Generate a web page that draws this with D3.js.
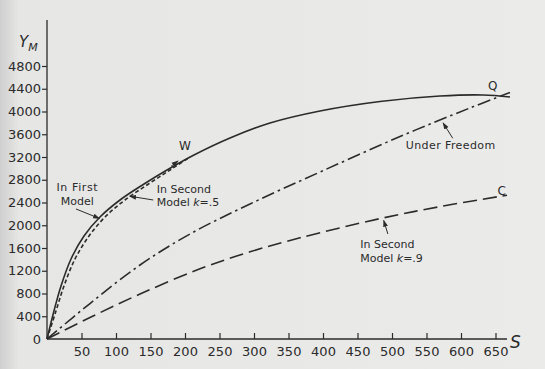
<!DOCTYPE html>
<html>
<head>
<meta charset="utf-8">
<script src="https://cdn.jsdelivr.net/npm/d3@7"></script>
<style>
  html, body { margin: 0; padding: 0; background: #e9e9e8; }
  svg { display: block; }
  text { font-family: "DejaVu Sans", sans-serif; fill: #2b2b2b; }
</style>
</head>
<body>
<svg id="chart" width="545" height="369"></svg>
<script>
// ---- data ----
const sTicks = [50, 100, 150, 200, 250, 300, 350, 400, 450, 500, 550, 600, 650];
const yTicks = [0, 400, 800, 1200, 1600, 2000, 2400, 2800, 3200, 3600, 4000, 4400, 4800];

// In First Model (solid, O -> W -> Q)
const firstS = [0, 10.1, 20.3, 34.8, 53.6, 76.8, 105.8, 140.6, 173.9, 213, 265.2, 323.2, 395.7, 482.6, 569.6, 631.9, 671];
const firstY = [0, 492, 932, 1407, 1811, 2145, 2444, 2725, 2971, 3235, 3534, 3798, 4009, 4176, 4272, 4290, 4255];

// In Second Model k = .5 (short dashes, O -> W)
const secondHalfS = [0, 13, 24.6, 40.6, 60.9, 84.1, 113, 147.1, 178.3, 207.2];
const secondHalfY = [0, 492, 932, 1407, 1811, 2145, 2444, 2725, 2971, 3200];

// Under Freedom (dash-dot)
const freedomS = [0, 62.3, 134.8, 207.2, 294.2, 395.7, 511.6, 613, 671];
const freedomY = [0, 624, 1301, 1846, 2374, 2936, 3560, 4062, 4334];

// In Second Model k = .9 (long dashes, O -> C)
const secondNineS = [0, 62.3, 134.8, 221.7, 294.2, 366.7, 482.6, 569.6, 666.7];
const secondNineY = [0, 378, 791, 1234, 1533, 1779, 2117, 2328, 2528];

// ---- drawing ----
const svg = d3.select("#chart");
const ink = "#2b2b2b";

const defs = svg.append("defs");
const grad = defs.append("linearGradient").attr("id", "paper").attr("x1", 0).attr("x2", 1);
grad.append("stop").attr("offset", "0").attr("stop-color", "#cfcfcf");
grad.append("stop").attr("offset", "0.035").attr("stop-color", "#e6e6e5");
grad.append("stop").attr("offset", "1").attr("stop-color", "#ebebea");
svg.append("rect").attr("width", 545).attr("height", 369).attr("fill", "url(#paper)");

defs.append("marker").attr("id", "arrow")
  .attr("viewBox", "0 0 10 10").attr("refX", 9).attr("refY", 5)
  .attr("markerWidth", 7).attr("markerHeight", 7).attr("markerUnits", "userSpaceOnUse")
  .attr("orient", "auto")
  .append("path").attr("d", "M0,1.5 L10,5 L0,8.5 Z").attr("fill", ink);

const x = d3.scaleLinear().domain([0, 650]).range([47, 495.5]);
const y = d3.scaleLinear().domain([0, 4800]).range([339, 66]);

// axes
const yAxis = d3.axisLeft(y).tickValues(yTicks).tickSize(5).tickPadding(1)
  .tickFormat(d => d);
const gy = svg.append("g").attr("transform", `translate(${x(0)},0)`).call(yAxis);
gy.select(".domain").remove();
gy.selectAll(".tick line").attr("stroke", ink).attr("stroke-width", 1.2)
  .filter(d => d === 0).remove();
gy.selectAll(".tick text").attr("font-size", 13).style("font-family", "DejaVu Sans, sans-serif").attr("fill", ink);
svg.append("line").attr("x1", x(0)).attr("x2", x(0)).attr("y1", y(0)).attr("y2", 20)
  .attr("stroke", ink).attr("stroke-width", 1.3);

const xAxis = d3.axisBottom(x).tickValues(sTicks).tickSizeInner(-6).tickSizeOuter(0).tickPadding(8);
const gx = svg.append("g").attr("transform", `translate(0,${y(0)})`).call(xAxis);
gx.select(".domain").remove();
gx.selectAll(".tick line").attr("stroke", ink).attr("stroke-width", 1.2);
gx.selectAll(".tick text").attr("font-size", 13).style("font-family", "DejaVu Sans, sans-serif").attr("fill", ink);
svg.append("line").attr("x1", x(0)).attr("x2", 507).attr("y1", y(0)).attr("y2", y(0))
  .attr("stroke", ink).attr("stroke-width", 1.3);

// axis titles
const yt = svg.append("text").attr("x", 19).attr("y", 47).attr("font-size", 15).attr("font-style", "italic");
yt.append("tspan").text("Y");
yt.append("tspan").attr("font-size", 11).attr("dy", 4).text("M");
svg.append("text").attr("x", 510).attr("y", 348).attr("font-size", 17).attr("font-style", "italic").text("S");

// curves
const line = d3.line().x(d => x(d[0])).y(d => y(d[1])).curve(d3.curveCatmullRom.alpha(0.5));
const zip = (a, b) => a.map((v, i) => [v, b[i]]);

svg.append("path").attr("d", line(zip(firstS, firstY)))
  .attr("fill", "none").attr("stroke", ink).attr("stroke-width", 1.6);
svg.append("path").attr("d", line(zip(secondHalfS, secondHalfY)))
  .attr("fill", "none").attr("stroke", ink).attr("stroke-width", 1.6).attr("stroke-dasharray", "4,2.5");
svg.append("path").attr("d", line(zip(freedomS, freedomY)))
  .attr("fill", "none").attr("stroke", ink).attr("stroke-width", 1.6).attr("stroke-dasharray", "13,4,2.5,4");
svg.append("path").attr("d", line(zip(secondNineS, secondNineY)))
  .attr("fill", "none").attr("stroke", ink).attr("stroke-width", 1.6).attr("stroke-dasharray", "14,6");

// annotations
const lab = (s, v, str, anchor) => svg.append("text").attr("x", x(s)).attr("y", y(v))
  .attr("font-size", 11).attr("dy", "0.35em").attr("text-anchor", anchor || "start").text(str);
const arrow = (s1, v1, s2, v2) => svg.append("line")
  .attr("x1", x(s1)).attr("y1", y(v1)).attr("x2", x(s2)).attr("y2", y(v2))
  .attr("stroke", ink).attr("stroke-width", 1).attr("marker-end", "url(#arrow)");

lab(44, 2672, "In First", "middle").attr("letter-spacing", 0.6);
lab(44, 2426, "Model", "middle");
arrow(42, 2286, 76, 2120);

lab(159, 2637, "In Second");
const k5 = lab(159, 2409, "Model ");
k5.append("tspan").attr("font-style", "italic").text("k");
k5.append("tspan").text("=.5");
arrow(154, 2444, 120, 2510);

svg.append("text").attr("x", x(200)).attr("y", y(3393)).attr("dy", "0.35em")
  .attr("text-anchor", "middle").attr("font-size", 12).text("W");
arrow(180, 3040, 190, 3130);

svg.append("text").attr("x", x(646)).attr("y", y(4448)).attr("dy", "0.35em")
  .attr("text-anchor", "middle").attr("font-size", 12).text("Q");

lab(520, 3411, "Under Freedom").attr("letter-spacing", 0.4);
arrow(588, 3530, 574, 3800);

svg.append("text").attr("x", x(659)).attr("y", y(2602)).attr("dy", "0.35em")
  .attr("text-anchor", "middle").attr("font-size", 12).text("C");

lab(454, 1670, "In Second");
const k9 = lab(454, 1424, "Model ");
k9.append("tspan").attr("font-style", "italic").text("k");
k9.append("tspan").text("=.9");
arrow(494, 1846, 488, 2085);
</script>
</body>
</html>
